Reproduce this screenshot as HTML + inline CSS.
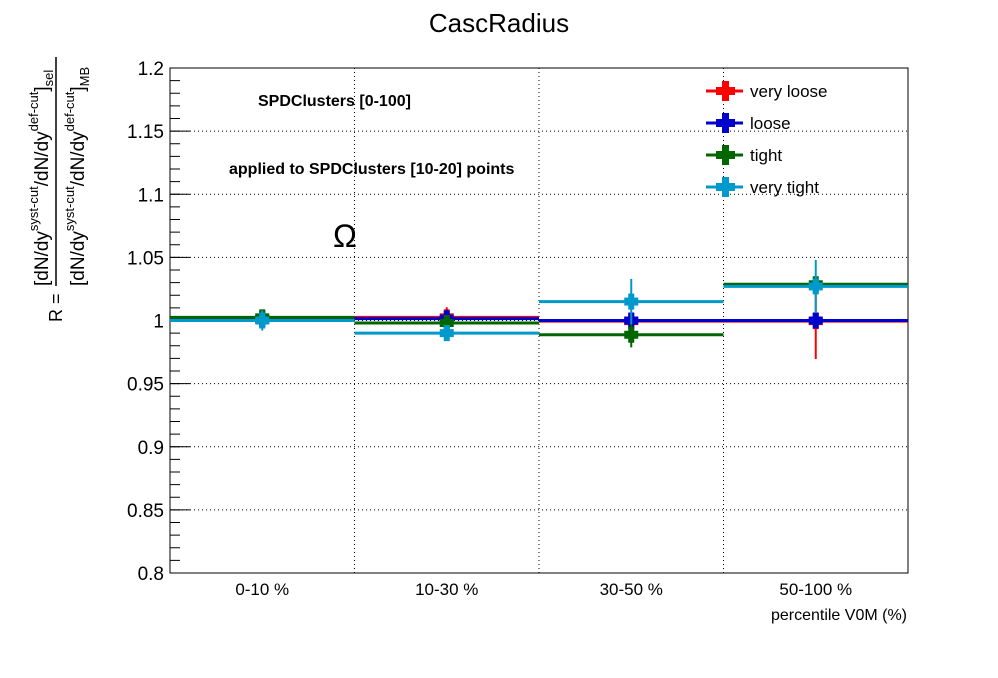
<!DOCTYPE html>
<html><head><meta charset="utf-8"><style>
body{margin:0;background:#fff;font-family:"Liberation Sans",sans-serif}
svg text{font-family:"Liberation Sans",sans-serif}
</style></head><body>
<svg id="c" width="998" height="673" xmlns="http://www.w3.org/2000/svg">
<rect width="998" height="673" fill="#fff"/>
<text x="499" y="32" text-anchor="middle" font-size="26">CascRadius</text>
<g id="grid"></g>
<rect x="170" y="68" width="738" height="505" fill="none" stroke="#000" stroke-width="1"/>
<g id="axes"></g>
<g id="data"></g>
<text x="258" y="106" font-size="16" font-weight="bold">SPDClusters [0-100]</text>
<text x="229" y="174" font-size="16" font-weight="bold">applied to SPDClusters [10-20] points</text>
<text x="333" y="247" font-size="32" font-family="Liberation Serif,serif">Ω</text>
<text x="907" y="620" text-anchor="end" font-size="16">percentile V0M (%)</text>
<g transform="translate(62,322) rotate(-90)">
<text x="0" y="0" font-size="18">R =</text>
<line x1="36" y1="-6" x2="265" y2="-6" stroke="#000" stroke-width="1.5"/>
<text x="36" y="-14" font-size="19">[dN/dy<tspan font-size="13" dy="-10">syst-cut</tspan><tspan dy="10">/dN/dy</tspan><tspan font-size="13" dy="-10">def-cut</tspan><tspan dy="10">]</tspan><tspan font-size="13" dy="5">sel</tspan></text>
<text x="36" y="22" font-size="19">[dN/dy<tspan font-size="13" dy="-10">syst-cut</tspan><tspan dy="10">/dN/dy</tspan><tspan font-size="13" dy="-10">def-cut</tspan><tspan dy="10">]</tspan><tspan font-size="13" dy="5">MB</tspan></text>
</g>
<g id="legend"></g>
</svg>
<script>
const categories=["0-10 %","10-30 %","30-50 %","50-100 %"];
const seriesNames=["very loose","loose","tight","very tight"];
const seriesColors=["#ff0000","#0000cc","#006600","#0099cc"];
const veryLoose=[1.001,1.0025,0.9995,0.9995];
const veryLooseErr=[0.007,0.008,0.004,0.030];
const loose=[1.001,1.0015,1.0,1.0];
const looseErr=[0.007,0.007,0.004,0.006];
const tight=[1.0025,0.998,0.9887,1.0287];
const tightErr=[0.006,0.006,0.010,0.006];
const veryTight=[1.0,0.990,1.015,1.027];
const veryTightErr=[0.008,0.006,0.018,0.021];
const yTicks=[0.8,0.85,0.9,0.95,1,1.05,1.1,1.15,1.2];
const series=[veryLoose,loose,tight,veryTight];
const errs=[veryLooseErr,looseErr,tightErr,veryTightErr];
const X0=170,X1=908,Y0=573,Y1=68,ymin=0.8,ymax=1.2;
const NS="http://www.w3.org/2000/svg";
const bw=(X1-X0)/categories.length;
const xs=i=>X0+bw*(i+0.5);
const ys=v=>Y0-(v-ymin)/(ymax-ymin)*(Y0-Y1);
function mk(tag,at,p){const e=document.createElementNS(NS,tag);for(const k in at)e.setAttribute(k,at[k]);p.appendChild(e);return e;}
const grid=document.getElementById('grid'),axes=document.getElementById('axes'),data=document.getElementById('data'),leg=document.getElementById('legend');
yTicks.forEach(v=>{const y=ys(v);
 if(v>ymin&&v<ymax){const g=mk('line',{x1:X0,x2:X1,y1:y,y2:y,stroke:'#000','stroke-dasharray':'1,3'},grid);
 
 }
 const t=mk('line',{x1:X0,x2:X0+20,y1:y,y2:y,stroke:'#000'},axes);
 
 
 const l=mk('text',{x:X0-6,y:y+7,'text-anchor':'end','font-size':19},axes);l.textContent=String(v);
 
 
});
for(let v=ymin;v<ymax-1e-6;v+=0.01){const y=ys(v);mk('line',{x1:X0,x2:X0+10,y1:y,y2:y,stroke:'#000'},axes);}
categories.forEach((c,i)=>{
 if(i>0){const g=mk('line',{x1:X0+bw*i,x2:X0+bw*i,y1:Y1,y2:Y0,stroke:'#000','stroke-dasharray':'1,3'},grid);
 
 }
 const l=mk('text',{x:xs(i),y:595,'text-anchor':'middle','font-size':17},axes);l.textContent=c;
 
 
});
series.forEach((s,k)=>{const col=seriesColors[k];
 s.forEach((v,i)=>{const g=mk('g',{},data);
  
  
  const y=ys(v),x=xs(i);
  mk('line',{x1:X0+bw*i,x2:X0+bw*(i+1),y1:y,y2:y,stroke:col,'stroke-width':3},g);
  mk('line',{x1:x,x2:x,y1:ys(v+errs[k][i]),y2:ys(v-errs[k][i]),stroke:col,'stroke-width':2},g);
  mk('rect',{x:x-7,y:y-4,width:14,height:8,fill:col},g);
  mk('rect',{x:x-3,y:y-8,width:6,height:16,fill:col},g);
 });
});
seriesNames.forEach((n,k)=>{const y=91+k*32,col=seriesColors[k];
 const g=mk('g',{},leg);
 
 
 mk('line',{x1:706,x2:743,y1:y,y2:y,stroke:col,'stroke-width':3},g);
 mk('rect',{x:722,y:y-10,width:7,height:20,fill:col},g);
 mk('rect',{x:716,y:y-4,width:19,height:8,fill:col},g);
 const t=mk('text',{x:750,y:y+6,'font-size':17},g);t.textContent=n;
});
</script>
</body></html>
